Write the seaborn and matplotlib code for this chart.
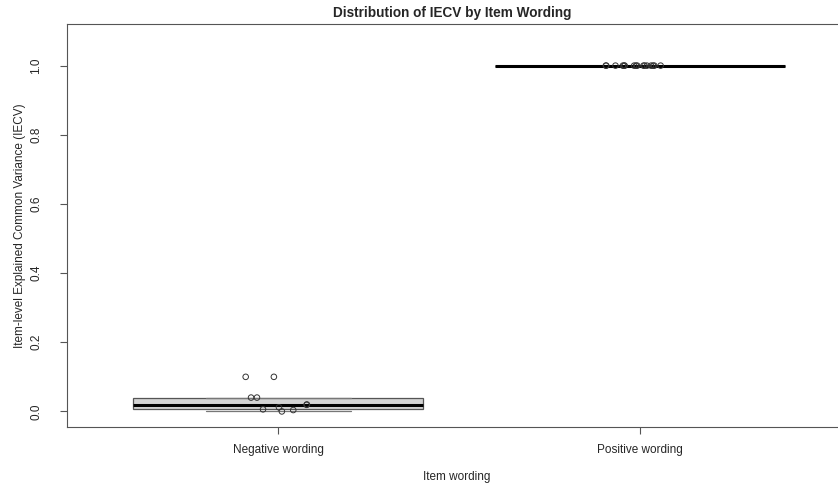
import numpy as np
import pandas as pd
import matplotlib
matplotlib.use("Agg")
import matplotlib.pyplot as plt
import seaborn as sns

# Данные
categories = ["Negative wording", "Positive wording"]
neg_iecv = [0.0, 0.004, 0.006, 0.012, 0.019, 0.02, 0.04, 0.04, 0.1, 0.1]
pos_iecv = [1.0] * 16

df = pd.DataFrame({
    "wording": [categories[0]] * len(neg_iecv) + [categories[1]] * len(pos_iecv),
    "iecv": neg_iecv + pos_iecv,
})

sns.set_style("white")
plt.rcParams["font.family"] = ["Liberation Sans", "DejaVu Sans"]

fig = plt.figure(figsize=(8.38, 4.83), dpi=100)
ax = fig.add_axes([0.08, 0.116, 0.93, 0.834])

sns.boxplot(
    data=df, x="wording", y="iecv", order=categories, ax=ax,
    width=0.8, color="#d3d3d3", linecolor="#555555", linewidth=0.9,
    showfliers=False,
    medianprops={"color": "black", "linewidth": 2.2},
    whiskerprops={"color": "#777777", "linewidth": 0.9},
    capprops={"color": "#777777", "linewidth": 0.9},
    saturation=1,
)

np.random.seed(3)
sns.stripplot(
    data=df, x="wording", y="iecv", order=categories, ax=ax,
    jitter=0.1, size=4, color="black", linewidth=0.7, edgecolor="black",
)
for coll in ax.collections:
    coll.set_facecolor("none")
    coll.set_edgecolor("#333333")

ax.set_xlim(-0.583, 1.569)
ax.set_ylim(-0.045, 1.12)
ax.set_yticks([0.0, 0.2, 0.4, 0.6, 0.8, 1.0])
ax.set_yticklabels(["0.0", "0.2", "0.4", "0.6", "0.8", "1.0"], rotation=90, va="center")
ax.tick_params(axis="both", direction="out", length=5, width=0.8, color="#555555",
               labelsize=8.5, left=True, bottom=True)
ax.tick_params(axis="y", pad=13)
ax.tick_params(axis="x", pad=7)

for side in ["left", "bottom", "top"]:
    ax.spines[side].set_visible(True)
    ax.spines[side].set_color("#555555")
    ax.spines[side].set_linewidth(0.8)
ax.spines["right"].set_visible(False)

ax.set_xlabel("Item wording", fontsize=8.5, labelpad=11)
ax.set_ylabel("Item-level Explained Common Variance (IECV)", fontsize=8.5, labelpad=3)
fig.suptitle("Distribution of IECV by Item Wording", fontsize=9.8, fontweight="bold",
             x=0.54, y=0.988)

fig.savefig("out.png", dpi=100)
